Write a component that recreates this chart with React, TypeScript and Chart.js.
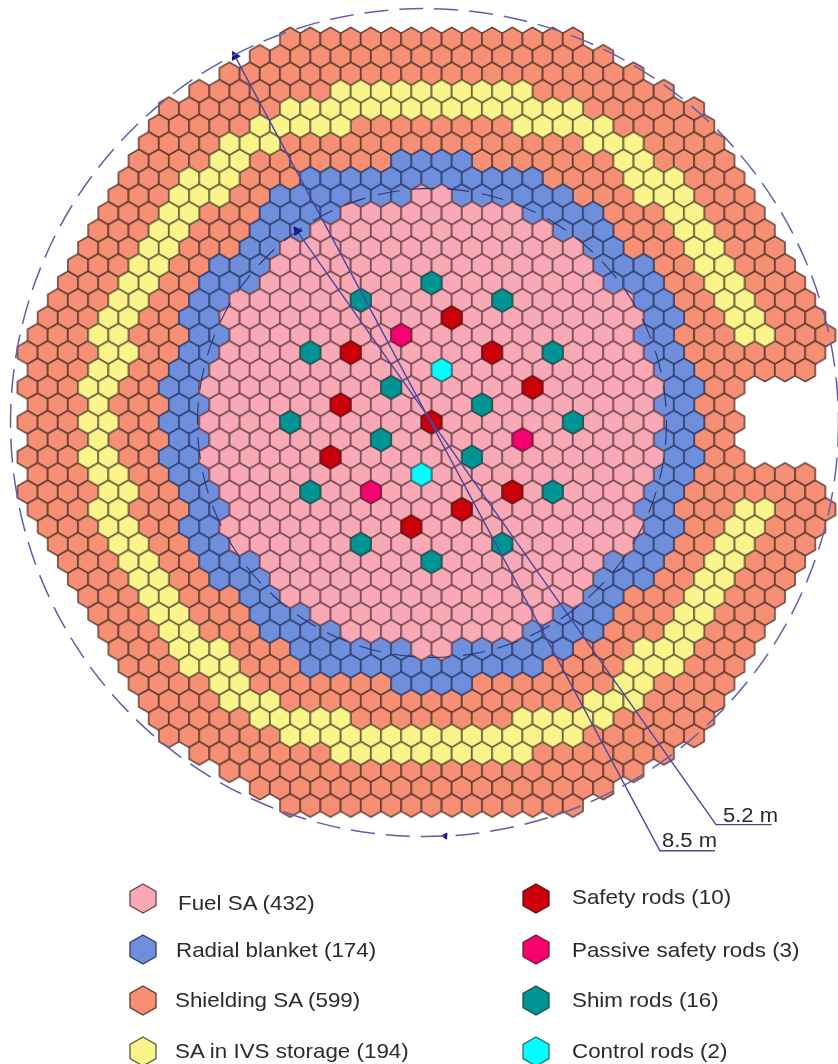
import React, { useEffect, useRef } from "react";
import { Chart, registerables } from "chart.js";

Chart.register(...registerables);

// Every lattice cell is addressed as [row, half-column]. Ranges are inclusive, step 2.
const coreExtent: [number, number][] = [
  [-14, 14], [-17, 17], [-20, 20], [-23, 23], [-26, 26], [-27, 27], [-28, 28], [-29, 29], [-30, 30],
  [-31, 31], [-32, 32], [-33, 33], [-34, 34], [-35, 35], [-36, 36], [-37, 37], [-38, 38], [-39, 39],
  [-40, 38], [-39, 37], [-40, 30], [-39, 29], [-40, 30], [-39, 29], [-40, 30], [-39, 37], [-40, 38],
  [-39, 39], [-38, 38], [-37, 37], [-36, 36], [-35, 35], [-34, 34], [-33, 33], [-32, 32], [-31, 31],
  [-30, 30], [-29, 29], [-28, 28], [-27, 27], [-26, 26], [-23, 23], [-20, 20], [-17, 17], [-14, 14],
];

// [row, from, to]
const blanketRuns: [number, number, number][] = [
  [7, -3, 3], [8, -12, 10], [9, -15, 13], [10, -16, 16], [11, -17, 17], [12, -18, 18], [13, -21, 21],
  [14, -22, 22], [15, -23, 23], [16, -24, 24], [17, -23, 23], [18, -24, 24], [19, -25, 25], [20, -26, 26],
  [21, -25, 25], [22, -26, 26], [23, -25, 25], [24, -26, 26], [25, -25, 25], [26, -24, 24], [27, -23, 23],
  [28, -24, 24], [29, -23, 23], [30, -22, 22], [31, -21, 21], [32, -18, 18], [33, -17, 17], [34, -16, 16],
  [35, -13, 13], [36, -12, 10], [37, -3, 3],
];

const fuelRuns: [number, number, number][] = [
  [9, -1, 1], [10, -8, 8], [11, -11, 11], [12, -14, 14], [13, -15, 15], [14, -16, 16], [15, -19, 19],
  [16, -20, 20], [17, -19, 19], [18, -20, 20], [19, -21, 21], [20, -22, 22], [21, -21, 21], [22, -22, 22],
  [23, -21, 21], [24, -22, 22], [25, -21, 21], [26, -20, 20], [27, -19, 19], [28, -20, 20], [29, -19, 19],
  [30, -16, 16], [31, -15, 15], [32, -14, 14], [33, -11, 11], [34, -8, 8], [35, -1, 1],
];

const storageRuns: [number, number, number][] = [
  [3, -9, 9], [4, -14, 14], [5, -17, -9], [5, 9, 17], [6, -20, -16], [6, 16, 20], [7, -21, -19], [7, 19, 21],
  [8, -24, -20], [8, 20, 24], [9, -25, -21], [9, 21, 25], [10, -26, -24], [10, 24, 26], [11, -27, -25],
  [11, 25, 27], [12, -28, -26], [12, 26, 28], [13, -29, -27], [13, 27, 29], [14, -30, -28], [14, 28, 30],
  [15, -31, -29], [15, 29, 31], [16, -32, -30], [16, 30, 32], [17, -33, -31], [17, 31, 33], [18, -32, -30],
  [19, -33, -31], [20, -34, -32], [21, -33, -33], [22, -34, -32], [23, -33, -33], [24, -34, -32],
  [25, -33, -31], [26, -32, -30], [27, -33, -31], [27, 31, 33], [28, -32, -30], [28, 30, 32], [29, -31, -29],
  [29, 29, 31], [30, -30, -28], [30, 28, 30], [31, -29, -27], [31, 27, 29], [32, -28, -26], [32, 26, 28],
  [33, -27, -25], [33, 25, 27], [34, -26, -24], [34, 24, 26], [35, -25, -21], [35, 21, 25], [36, -24, -20],
  [36, 20, 24], [37, -21, -19], [37, 19, 21], [38, -20, -16], [38, 16, 20], [39, -17, -9], [39, 9, 17],
  [40, -14, 14], [41, -9, 9],
];

const shimRods: [number, number][] = [
  [14, 0], [15, -7], [15, 7], [18, -12], [18, 12], [20, -4], [21, 5], [22, -14], [22, 14], [23, -5], [24, 4],
  [26, -12], [26, 12], [29, -7], [29, 7], [30, 0],
];
const safetyRods: [number, number][] = [
  [16, 2], [18, -8], [18, 6], [20, 10], [21, -9], [22, 0], [24, -10], [26, 8], [27, 3], [28, -2],
];
const passiveRods: [number, number][] = [[17, -3], [23, 9], [26, -6]];
const controlRods: [number, number][] = [[19, 1], [25, -1]];

const leader85: [number, number][] = [[-19.46, 0.98], [22.62, 46.6], [28.07, 46.6]];
const leader52: [number, number][] = [[-13.32, 11.02], [28.17, 45.1], [33.68, 45.1]];
const ringArrow: [number, number][] = [[1.34, 45.75]];

const outerRing = { cx: -0.69, cy: 22.02, r: 40.99 };
const innerRing = { cx: 0.05, cy: 22.04, r: 23.22 };

const legendLeft = [
  { label: "Fuel SA (432)", fill: "#F9A9B6", stroke: "#70484f", cy: 898, textX: 178, base: 910 },
  { label: "Radial blanket (174)", fill: "#6F8FDD", stroke: "#2f3f6d", cy: 949, textX: 176, base: 957 },
  { label: "Shielding SA (599)", fill: "#F68F74", stroke: "#5c3a30", cy: 1000, textX: 175, base: 1006.5 },
  { label: "SA in IVS storage (194)", fill: "#FBF48B", stroke: "#5f5c3c", cy: 1051, textX: 174.5, base: 1058 },
];
const legendRight = [
  { label: "Safety rods (10)", fill: "#CC0008", stroke: "#601015", cy: 898, textX: 572, base: 904 },
  { label: "Passive safety rods (3)", fill: "#F8006E", stroke: "#6e1a40", cy: 949, textX: 572, base: 957 },
  { label: "Shim rods (16)", fill: "#009494", stroke: "#17504f", cy: 1000, textX: 572, base: 1006.5 },
  { label: "Control rods (2)", fill: "#00FFFF", stroke: "#2a6f70", cy: 1051, textX: 572, base: 1058 },
];
const dimensionLabels = [
  { label: "5.2 m", x: 723, base: 822 },
  { label: "8.5 m", x: 662, base: 847 },
];

const WIDTH = 838;
const HEIGHT = 1064;
const originX = 431.5;
const originY = 39;
const pxPerHalfCol = 10.1;
const pxPerRow = 17.42;

function cellKey(r: number, h: number) {
  return r + ":" + h;
}

function hexSprite(fill: string, stroke: string) {
  const c = document.createElement("canvas");
  c.width = 26;
  c.height = 28;
  const g = c.getContext("2d")!;
  const R = 11.62;
  g.beginPath();
  for (let i = 0; i < 6; i++) {
    const a = Math.PI / 2 + (i * Math.PI) / 3;
    const px = 13 + R * Math.cos(a);
    const py = 14 + R * Math.sin(a);
    if (i === 0) g.moveTo(px, py);
    else g.lineTo(px, py);
  }
  g.closePath();
  g.fillStyle = fill;
  g.fill();
  g.lineWidth = 1.45;
  g.strokeStyle = stroke;
  g.stroke();
  return c;
}

function buildCells() {
  const kinds = new Map<string, string>();
  coreExtent.forEach(([from, to], r) => {
    for (let h = from; h <= to; h += 2) kinds.set(cellKey(r, h), "shield");
  });
  const paint = (runs: [number, number, number][], kind: string) =>
    runs.forEach(([r, from, to]) => {
      for (let h = from; h <= to; h += 2) kinds.set(cellKey(r, h), kind);
    });
  paint(storageRuns, "storage");
  paint(blanketRuns, "blanket");
  paint(fuelRuns, "fuel");
  const rods = (list: [number, number][], kind: string) =>
    list.forEach(([r, h]) => kinds.set(cellKey(r, h), kind));
  rods(shimRods, "shim");
  rods(safetyRods, "safety");
  rods(passiveRods, "passive");
  rods(controlRods, "control");
  const out: Record<string, { x: number; y: number }[]> = {};
  kinds.forEach((kind, key) => {
    const [r, h] = key.split(":").map(Number);
    (out[kind] = out[kind] || []).push({ x: h, y: r });
  });
  return out;
}

const ringsPlugin = {
  id: "rings",
  afterDatasetsDraw(chart: any) {
    const { ctx, scales } = chart;
    const draw = (ring: { cx: number; cy: number; r: number }, color: string, width: number, dash: number[]) => {
      const cx = scales.x.getPixelForValue(ring.cx);
      const cy = scales.y.getPixelForValue(ring.cy);
      const rad = Math.abs(scales.x.getPixelForValue(ring.r) - scales.x.getPixelForValue(0));
      ctx.save();
      ctx.beginPath();
      ctx.arc(cx, cy, rad, 0, Math.PI * 2);
      ctx.strokeStyle = color;
      ctx.lineWidth = width;
      ctx.setLineDash(dash);
      ctx.stroke();
      ctx.restore();
    };
    draw(outerRing, "#5f5fb0", 1.5, [24, 11]);
    draw(innerRing, "#2a3570", 1.1, [22, 13]);
  },
};

const lineColor = "#4646a6";

function leaderDataset(points: [number, number][], rotation: number) {
  return {
    label: "leader",
    data: points.map(([x, y]) => ({ x, y })),
    showLine: true,
    borderColor: lineColor,
    borderWidth: 1.4,
    backgroundColor: "#16168c",
    pointBorderColor: "#16168c",
    pointStyle: "triangle",
    pointRadius: points.map((_, i) => (i === 0 ? 4.5 : 0)),
    pointRotation: rotation,
  };
}

function Swatch({ fill, stroke, x, y }: { fill: string; stroke: string; x: number; y: number }) {
  const pts = "14,1 27,8.5 27,22.5 14,30 1,22.5 1,8.5";
  return (
    <svg width={28} height={31} style={{ position: "absolute", left: x - 14, top: y - 15.5 }}>
      <polygon points={pts} fill={fill} stroke={stroke} strokeWidth={1.3} />
    </svg>
  );
}

function Label({ text, x, base, size, stretch }: { text: string; x: number; base: number; size: number; stretch: number }) {
  return (
    <div
      style={{
        position: "absolute",
        left: x,
        top: base - size * 0.8465,
        fontFamily: '"Liberation Sans", Arial, sans-serif',
        fontSize: size,
        lineHeight: size + "px",
        color: "#2b2b2b",
        whiteSpace: "nowrap",
        transform: `scaleX(${stretch})`,
        transformOrigin: "left center",
      }}
    >
      {text}
    </div>
  );
}

export default function App() {
  const ref = useRef<HTMLCanvasElement | null>(null);
  useEffect(() => {
    const cells = buildCells();
    const layer = (kind: string, fill: string, stroke: string) => ({
      label: kind,
      data: cells[kind],
      pointStyle: hexSprite(fill, stroke),
      pointRadius: 10,
      showLine: false,
    });
    const chart = new Chart(ref.current as HTMLCanvasElement, {
      type: "scatter",
      data: {
        datasets: [
          leaderDataset(leader85, -28),
          leaderDataset(leader52, -35),
          {
            label: "ring arrow",
            data: ringArrow.map(([x, y]) => ({ x, y })),
            pointStyle: "triangle",
            pointRadius: 3.5,
            pointRotation: -85,
            backgroundColor: "#16168c",
            borderColor: "#16168c",
          },
          layer("control", "#00FFFF", "#2a6f70"),
          layer("shim", "#009494", "#17504f"),
          layer("passive", "#F8006E", "#6e1a40"),
          layer("safety", "#CC0008", "#601015"),
          layer("fuel", "#F9A9B6", "#70484f"),
          layer("blanket", "#6F8FDD", "#2f3f6d"),
          layer("storage", "#FBF48B", "#5f5c3c"),
          layer("shield", "#F68F74", "#5c3a30"),
        ] as any,
      },
      options: {
        animation: false,
        responsive: false,
        devicePixelRatio: 1,
        layout: { padding: 0, autoPadding: false },
        plugins: { legend: { display: false }, tooltip: { enabled: false } },
        scales: {
          x: { type: "linear", display: false, min: -originX / pxPerHalfCol, max: (WIDTH - originX) / pxPerHalfCol },
          y: { type: "linear", display: false, reverse: true, min: -originY / pxPerRow, max: (HEIGHT - originY) / pxPerRow },
        },
      } as any,
      plugins: [ringsPlugin],
    });
    return () => chart.destroy();
  }, []);

  return (
    <div style={{ position: "absolute", left: 0, top: 0, width: WIDTH, height: HEIGHT, background: "#fff", overflow: "hidden" }}>
      <canvas ref={ref} width={WIDTH} height={HEIGHT} style={{ display: "block", width: WIDTH, height: HEIGHT }} />
      {dimensionLabels.map((d) => (
        <Label key={d.label} text={d.label} x={d.x} base={d.base} size={20} stretch={1.1} />
      ))}
      {legendLeft.map((l) => (
        <React.Fragment key={l.label}>
          <Swatch fill={l.fill} stroke={l.stroke} x={142.5} y={l.cy} />
          <Label text={l.label} x={l.textX} base={l.base} size={21} stretch={1.065} />
        </React.Fragment>
      ))}
      {legendRight.map((l) => (
        <React.Fragment key={l.label}>
          <Swatch fill={l.fill} stroke={l.stroke} x={535.5} y={l.cy} />
          <Label text={l.label} x={l.textX} base={l.base} size={21} stretch={1.065} />
        </React.Fragment>
      ))}
    </div>
  );
}
